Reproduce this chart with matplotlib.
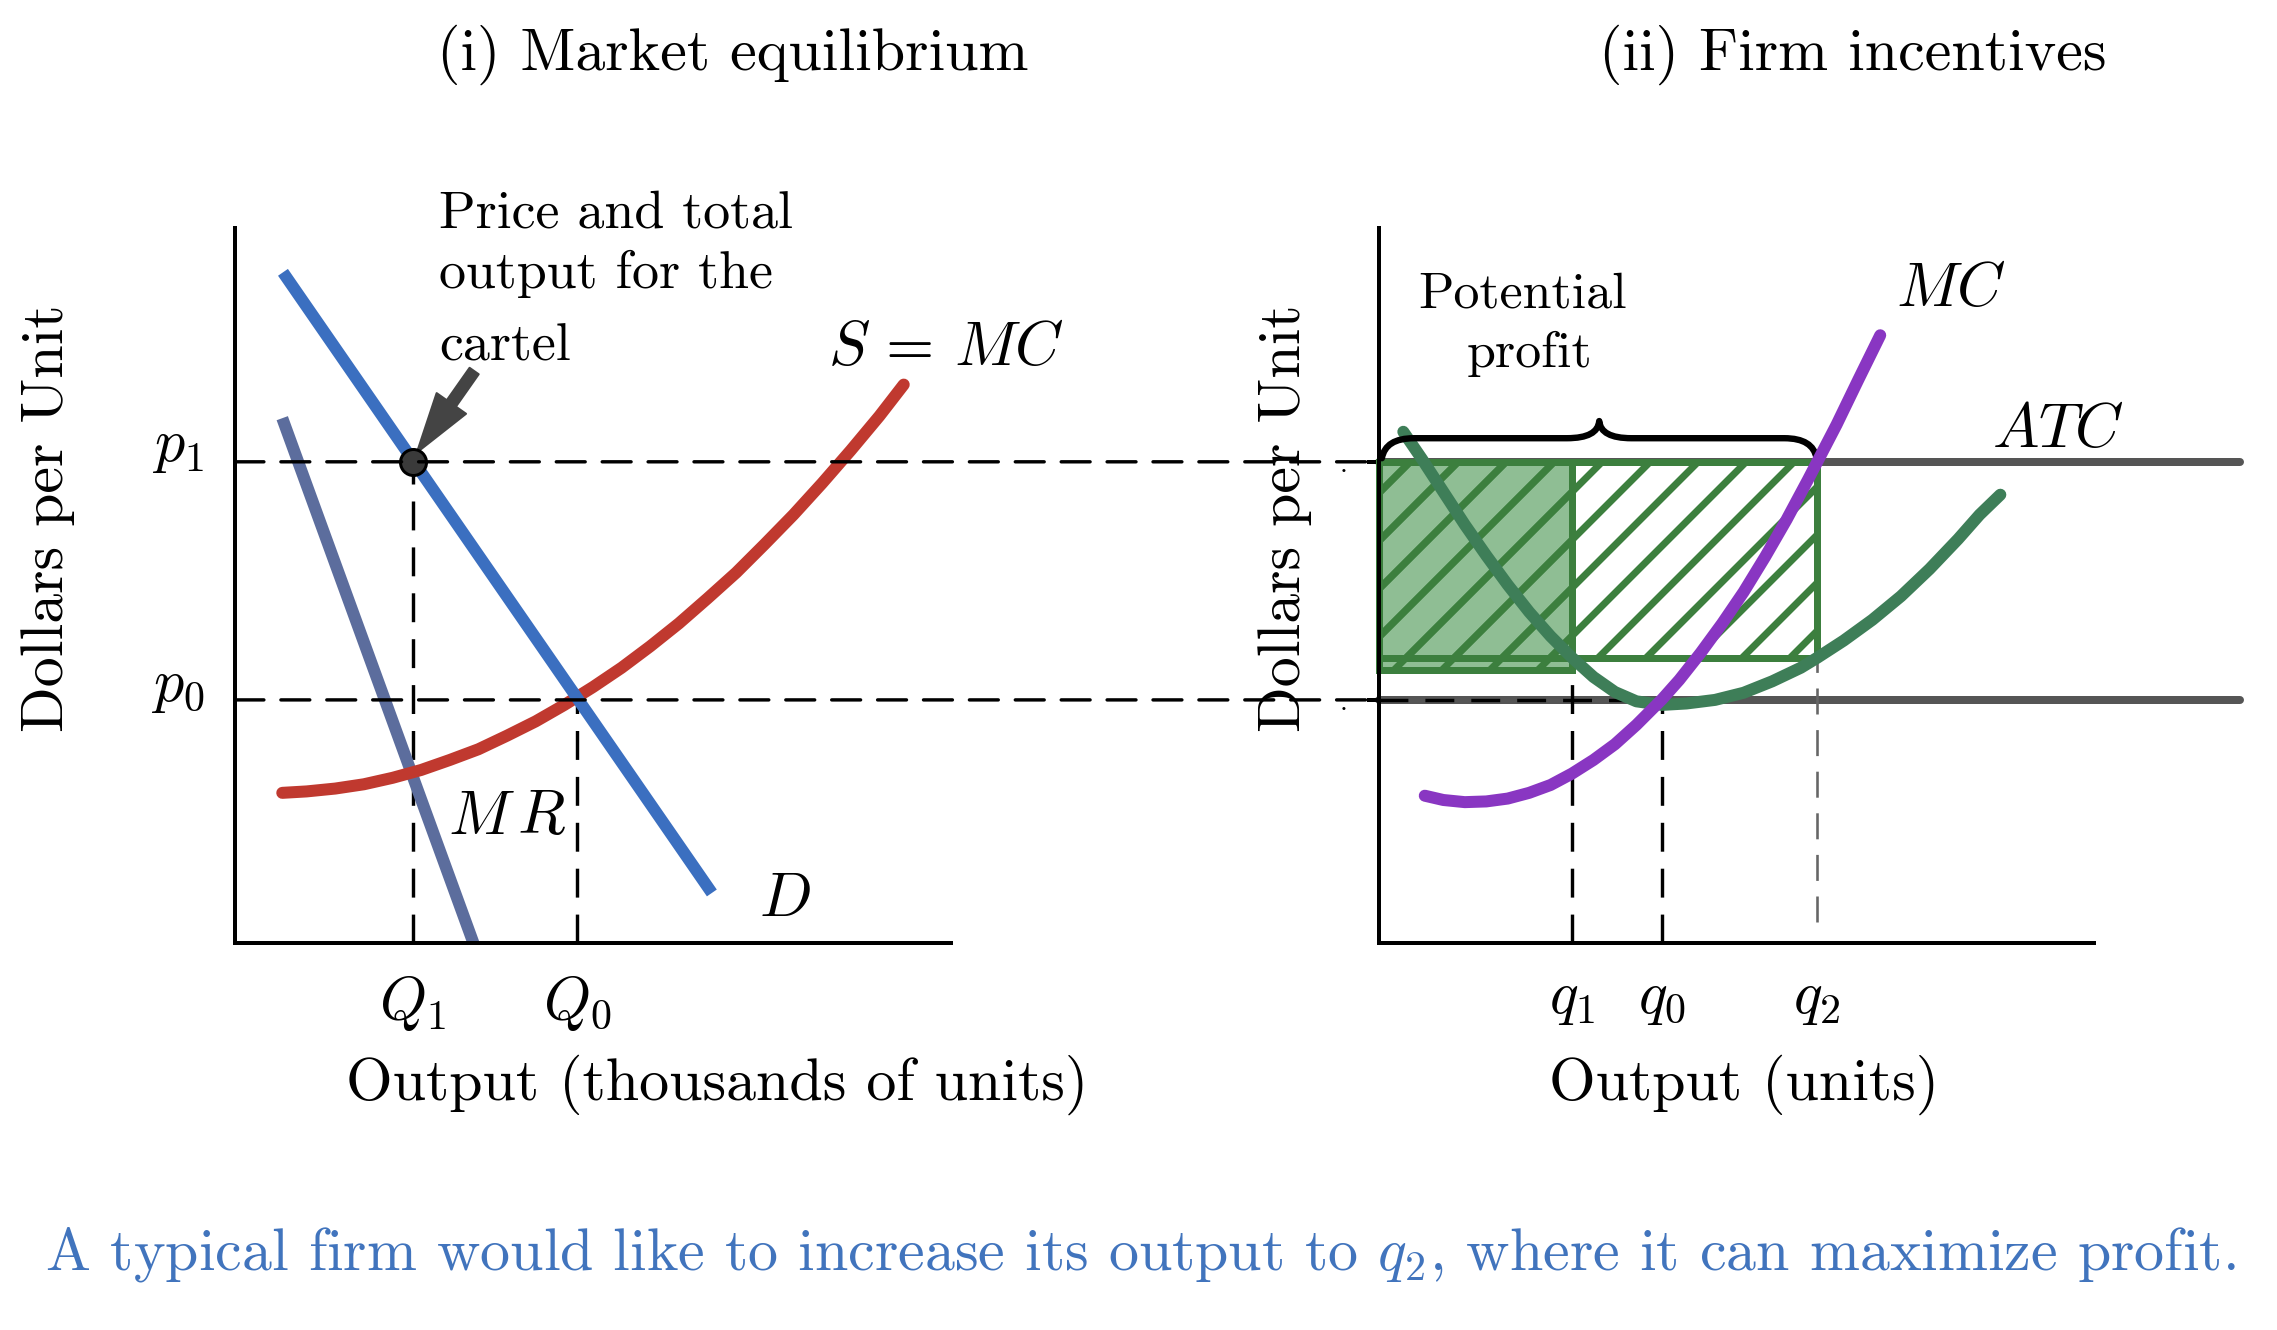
import matplotlib
matplotlib.use("Agg")
import matplotlib.pyplot as plt
from matplotlib.patches import Rectangle, ConnectionPatch, PathPatch
from matplotlib.path import Path

plt.rcParams['font.family'] = 'serif'
plt.rcParams['font.serif'] = ['cmr10']
plt.rcParams['mathtext.fontset'] = 'cm'
plt.rcParams['axes.unicode_minus'] = False
plt.rcParams['axes.formatter.use_mathtext'] = True
plt.rcParams['hatch.linewidth'] = 3.5

# ---------------- data ----------------
p1, p0 = 6.73, 3.40            # price levels
Q1, Q0 = 2.48, 4.78            # market output levels
demand_x = [0.67, 6.66]
demand_y = [9.38, 0.70]
mr_x = [0.66, 3.33]
mr_y = [7.34, 0.00]
supply_x = [0.66, 1.0, 1.4, 1.8, 2.2, 2.6, 3.0, 3.4, 3.8, 4.2, 4.6, 5.0, 5.4, 5.8,
            6.2, 6.6, 7.0, 7.4, 7.8, 8.2, 8.6, 9.0, 9.34]
supply_y = [2.10, 2.12, 2.16, 2.22, 2.31, 2.42, 2.56, 2.71, 2.90, 3.10, 3.33, 3.58, 3.85, 4.15,
            4.47, 4.82, 5.18, 5.58, 5.99, 6.43, 6.89, 7.37, 7.81]

q1, q0, q2 = 2.70, 3.96, 6.13  # firm output levels
mc_x = [0.64, 0.9, 1.2, 1.5, 1.8, 2.1, 2.4, 2.7, 3.0, 3.3, 3.6, 3.96, 4.2, 4.5, 4.8, 5.1,
        5.4, 5.7, 6.0, 6.13, 6.4, 6.7, 7.01]
mc_y = [2.06, 2.00, 1.97, 1.98, 2.02, 2.10, 2.21, 2.37, 2.56, 2.78, 3.05, 3.41, 3.68, 4.06,
        4.47, 4.91, 5.40, 5.92, 6.48, 6.73, 7.25, 7.87, 8.50]
atc_x = [0.34, 0.6, 0.9, 1.2, 1.5, 1.8, 2.1, 2.4, 2.7, 3.0, 3.3, 3.6, 3.96, 4.3, 4.7, 5.1,
         5.5, 5.9, 6.13, 6.5, 6.9, 7.3, 7.7, 8.1, 8.4, 8.69]
atc_y = [7.15, 6.77, 6.31, 5.85, 5.42, 5.01, 4.63, 4.29, 3.99, 3.72, 3.51, 3.38, 3.33, 3.35,
         3.40, 3.50, 3.66, 3.85, 3.99, 4.23, 4.52, 4.85, 5.23, 5.65, 5.99, 6.27]
profit_bottom = 3.99    # ATC at q1 and q2
shaded_bottom = 3.82
line_end = 12.04        # right extent of horizontal price lines (panel ii)

# ---------------- colours ----------------
BLUE = '#3b6fc0'
SLATE = '#5c6d9d'
RED = '#c0392f'
PURPLE = '#8936c2'
ATCG = '#3e7e58'
BOXG = '#3c7f3e'
FILLG = '#8fbe94'
GRAY = '#555555'
CAPTION = '#4174bd'

W, H, DPI = 2277, 1330, 144
fig = plt.figure(figsize=(W / DPI, H / DPI), dpi=DPI)
ax1 = fig.add_axes([235 / W, 1 - 943 / H, 716 / W, 715 / H])
ax2 = fig.add_axes([1379 / W, 1 - 943 / H, 715 / W, 715 / H])

for ax in (ax1, ax2):
    ax.set_xlim(0, 10)
    ax.set_ylim(0, 10)
    for s in ('top', 'right'):
        ax.spines[s].set_visible(False)
    for s in ('left', 'bottom'):
        ax.spines[s].set_linewidth(2)
        ax.spines[s].set_color('black')
        ax.spines[s].set_zorder(6)
    ax.set_xticks([])
    ax.set_yticks([])

DASH = dict(color='black', lw=1.7, linestyle=(0, (8.5, 5)))

# ---------------- panel (i) ----------------
ax1.plot([Q1, Q1], [0, p1], clip_on=False, zorder=2, **DASH)
ax1.plot([Q0, Q0], [0, p0], clip_on=False, zorder=2, **DASH)
ax1.plot(mr_x, mr_y, color=SLATE, lw=6, solid_capstyle='butt', clip_on=False, zorder=3)
ax1.plot(supply_x, supply_y, color=RED, lw=6, solid_capstyle='round', solid_joinstyle='round',
         clip_on=False, zorder=3)
ax1.plot(demand_x, demand_y, color=BLUE, lw=6, solid_capstyle='butt', clip_on=False, zorder=4)
ax1.plot([Q1], [p1], 'o', ms=13, mfc='#3a3a3a', mec='black', mew=1.5, zorder=7, clip_on=False)
ax1.annotate('', xy=(2.54, 6.86), xytext=(3.34, 8.0),
             arrowprops=dict(arrowstyle='simple,head_length=1.5,head_width=0.9,tail_width=0.28',
                             color='#444444', mutation_scale=20, shrinkA=0, shrinkB=0), zorder=6)

for yv in (p1, p0):
    con = ConnectionPatch(xyA=(0, yv), coordsA=ax1.transData, xyB=(0, yv), coordsB=ax2.transData,
                          **DASH)
    con.set_zorder(1)
    fig.add_artist(con)

ax1.text(-0.43, p1 + 0.19, '$p_1$', fontsize=30, ha='right', va='center')
ax1.text(-0.43, p0 + 0.17, '$p_0$', fontsize=30, ha='right', va='center')
ax1.text(Q1, -0.84, '$Q_1$', fontsize=30, ha='center', va='center')
ax1.text(Q0, -0.84, '$Q_0$', fontsize=30, ha='center', va='center')
ax1.text(2.85, 10.0, 'Price and total', fontsize=27, ha='left', va='baseline')
ax1.text(2.85, 9.16, 'output for the', fontsize=27, ha='left', va='baseline')
ax1.text(2.85, 8.15, 'cartel', fontsize=27, ha='left', va='baseline')
ax1.text(9.93, 8.31, '$S\\,=\\,MC$', fontsize=31, ha='center', va='center')
ax1.text(7.68, 0.60, '$D$', fontsize=31, ha='center', va='center')
ax1.text(3.80, 1.75, '$M\\,R$', fontsize=31, ha='center', va='center')

# ---------------- panel (ii) ----------------
ax2.plot([0, line_end], [p1, p1], color=GRAY, lw=4, clip_on=False, zorder=1, solid_capstyle='round')
ax2.plot([0, line_end], [p0, p0], color=GRAY, lw=4, clip_on=False, zorder=1, solid_capstyle='round')
ax2.plot([0, q0], [p0, p0], zorder=2, **DASH)
ax2.plot([q1, q1], [0, profit_bottom], zorder=2, **DASH)
ax2.plot([q0, q0], [0, p0], zorder=2, **DASH)
ax2.plot([q2, q2], [0.3, profit_bottom], color='#666666', lw=1.3, linestyle=(0, (10, 6)), zorder=2)

ax2.add_patch(Rectangle((0, shaded_bottom), q1, p1 - shaded_bottom, facecolor=FILLG,
                        edgecolor=BOXG, lw=3.5, hatch='/', zorder=3, clip_on=False))
ax2.add_patch(Rectangle((0, profit_bottom), q2, p1 - profit_bottom, facecolor='none',
                        edgecolor=BOXG, lw=3.5, hatch='/', zorder=3, clip_on=False))
ax2.plot([q1, q1], [profit_bottom, p1], color=BOXG, lw=3.5, zorder=3)

ax2.plot(atc_x, atc_y, color=ATCG, lw=6, solid_capstyle='round', solid_joinstyle='round',
         zorder=4, clip_on=False)
ax2.plot(mc_x, mc_y, color=PURPLE, lw=6, solid_capstyle='round', solid_joinstyle='round',
         zorder=5, clip_on=False)

# curly brace above the profit box
bx0, bx1, by0, bym, bytop = 0.04, 6.12, 6.78, 7.06, 7.30
bxc, r = (bx0 + bx1) / 2, 0.45
verts = [(bx0, by0), (bx0 + 0.05, bym), (bx0 + r, bym),
         (bxc - r, bym), (bxc - 0.02, bym), (bxc, bytop),
         (bxc + 0.02, bym), (bxc + r, bym),
         (bx1 - r, bym), (bx1 - 0.05, bym), (bx1, by0)]
codes = [Path.MOVETO, Path.CURVE3, Path.CURVE3,
         Path.LINETO, Path.CURVE3, Path.CURVE3,
         Path.CURVE3, Path.CURVE3,
         Path.LINETO, Path.CURVE3, Path.CURVE3]
ax2.add_patch(PathPatch(Path(verts, codes), facecolor='none', edgecolor='black', lw=3.2,
                        zorder=4, clip_on=False, capstyle='round', joinstyle='round'))

ax2.text(2.0, 9.06, 'Potential', fontsize=26, ha='center', va='center')
ax2.text(2.1, 8.24, 'profit', fontsize=26, ha='center', va='center')
ax2.text(8.0, 9.13, '$MC$', fontsize=31, ha='center', va='center')
ax2.text(9.50, 7.15, '$ATC$', fontsize=31, ha='center', va='center')
for xv, lab in ((q1, '$q_1$'), (q0, '$q_0$'), (q2, '$q_2$')):
    ax2.text(xv, -0.80, lab, fontsize=30, ha='center', va='center')

# small ticks on panel (ii) value axis
ax2.set_yticks([p0, p1])
ax2.set_yticklabels(['.', '.'], fontsize=14)
ax2.tick_params(axis='y', length=6, width=2, pad=10)

# ---------------- titles / labels ----------------
fig.text(733 / W, 1 - 55 / H, '(i) Market equilibrium', fontsize=30, ha='center', va='center')
fig.text(1853 / W, 1 - 55 / H, '(ii) Firm incentives', fontsize=30, ha='center', va='center')
fig.text(48 / W, 1 - 518 / H, 'Dollars per Unit', fontsize=30, ha='center', va='center', rotation=90)
fig.text(1285 / W, 1 - 518 / H, 'Dollars per Unit', fontsize=30, ha='center', va='center', rotation=90)
fig.text(717 / W, 1 - 1085 / H, 'Output (thousands of units)', fontsize=30, ha='center', va='center')
fig.text(1744 / W, 1 - 1085 / H, 'Output (units)', fontsize=30, ha='center', va='center')
fig.text(1140 / W, 1 - 1255 / H,
         'A typical firm would like to increase its output to $q_2$, where it can maximize profit.',
         fontsize=30, ha='center', va='center', color=CAPTION)

fig.savefig('out.png', dpi=DPI)
